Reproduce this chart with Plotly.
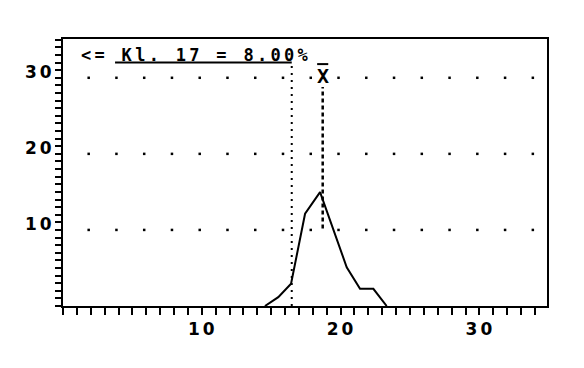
import plotly.graph_objects as go

# ---- data ----
x_vals = [14.55, 15.51, 16.43, 17.44, 18.52, 20.44, 21.40, 22.36, 23.32]
y_vals = [0.0, 1.16, 2.92, 12.13, 14.97, 5.10, 2.26, 2.26, 0.0]

kl_boundary = 16.48          # class-17 boundary (dotted line)
kl_top = 32.0                # height where the dotted line meets the underline
underline_start = 3.75
label_text = "<= Kl. 17 = 8.00%"
label_pos = (1.15, 33.0)

mean_x = 18.71               # X-bar (dashed line)
mean_line_y = [10.2, 28.8]
mean_mark_y = 30.3
mean_bar_y = 31.8

grid_levels = [10, 20, 30]
grid_dot_x = [1.85, 3.85, 5.85, 7.85, 9.85, 11.85, 13.85, 15.85, 17.85,
              19.85, 21.85, 23.85, 25.85, 27.85, 29.85, 31.85, 33.85]

x_range = [0, 34.87]
y_range = [0, 35.1]
x_ticks = list(range(0, 35))
y_ticks = list(range(0, 36))
labelled = [10, 20, 30]

TICKFONT = dict(family="DejaVu Sans", size=17, color="black")


def tick_text(vals):
    out = []
    for v in vals:
        if v in labelled:
            out.append('<span style="letter-spacing:3px"><b>%d</b></span>' % v)
        else:
            out.append("")
    return out


fig = go.Figure()

# dotted grid
for lvl in grid_levels:
    fig.add_trace(go.Scatter(
        x=grid_dot_x, y=[lvl] * len(grid_dot_x), mode="markers",
        marker=dict(symbol="square", size=2.5, color="black", line=dict(width=0)),
        hoverinfo="skip", showlegend=False))

# distribution curve
fig.add_trace(go.Scatter(
    x=x_vals, y=y_vals, mode="lines",
    line=dict(color="black", width=2), showlegend=False))

# dotted class boundary line
fig.add_trace(go.Scatter(
    x=[kl_boundary, kl_boundary], y=[0, kl_top], mode="lines",
    line=dict(color="black", width=2, dash="2px,5px"), showlegend=False))

# underline of label
fig.add_trace(go.Scatter(
    x=[underline_start, kl_boundary], y=[kl_top, kl_top], mode="lines",
    line=dict(color="black", width=2), showlegend=False))

# dashed mean line
fig.add_trace(go.Scatter(
    x=[mean_x, mean_x], y=mean_line_y, mode="lines",
    line=dict(color="black", width=2.5, dash="4px,3px"), showlegend=False))

# X-bar marker
fig.add_trace(go.Scatter(
    x=[mean_x - 0.4, mean_x + 0.4], y=[mean_bar_y, mean_bar_y], mode="lines",
    line=dict(color="black", width=2), showlegend=False))
fig.add_annotation(
    x=mean_x, y=mean_mark_y, text="<b>X</b>", showarrow=False,
    font=dict(family="DejaVu Sans Mono", size=20, color="black"),
    xanchor="center", yanchor="middle")

fig.add_annotation(
    x=label_pos[0], y=label_pos[1],
    text='<span style="letter-spacing:3.3px"><b>%s</b></span>' % label_text.replace("<", "&lt;"),
    showarrow=False, xanchor="left", yanchor="middle",
    font=dict(family="DejaVu Sans Mono", size=17, color="black"))

axis_common = dict(
    showline=True, linecolor="black", linewidth=2, mirror=True,
    showgrid=False, zeroline=False, ticks="outside", tickcolor="black",
    tickwidth=2, tickfont=TICKFONT, tickmode="array",
)

fig.update_xaxes(range=x_range, tickvals=x_ticks, ticktext=tick_text(x_ticks),
                 ticklen=7, ticklabelshift=1, **axis_common)
fig.update_yaxes(range=y_range, tickvals=y_ticks, ticktext=tick_text(y_ticks),
                 ticklen=6, ticklabelshift=-6, ticklabelstandoff=-3, **axis_common)

fig.update_layout(
    width=584, height=368,
    margin=dict(l=63, r=37, t=39, b=62),
    paper_bgcolor="white", plot_bgcolor="white",
)

fig.write_html("out.html")
